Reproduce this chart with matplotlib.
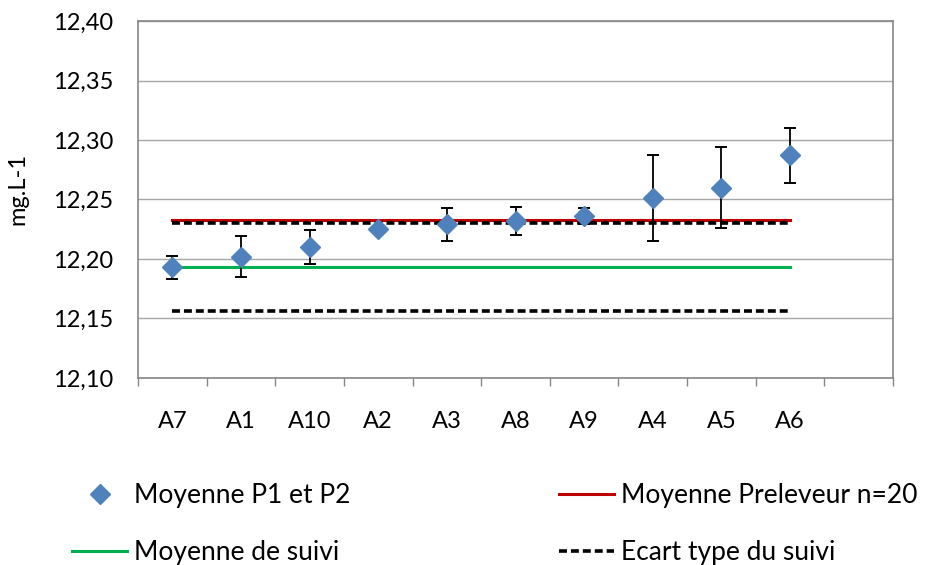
import numpy as np
import matplotlib
matplotlib.use("Agg")
import matplotlib.pyplot as plt
from matplotlib.lines import Line2D

plt.rcParams['font.family'] = ['Lato', 'DejaVu Sans']

# Data
categories = ['A7', 'A1', 'A10', 'A2', 'A3', 'A8', 'A9', 'A4', 'A5', 'A6']
moyenne_p1_p2 = [12.193, 12.202, 12.210, 12.225, 12.229, 12.232, 12.236, 12.251, 12.260, 12.287]
erreur = [0.0095, 0.017, 0.014, 0.002, 0.0135, 0.0115, 0.0065, 0.036, 0.034, 0.023]
moyenne_preleveur = 12.233
moyenne_suivi = 12.193
ecart_haut = 12.230
ecart_bas = 12.156
n_slots = 11  # Excel axis keeps one empty category on the right

yticks = [12.10, 12.15, 12.20, 12.25, 12.30, 12.35, 12.40]

W, H = 934, 565
fig = plt.figure(figsize=(W / 100, H / 100), dpi=100)
ax = fig.add_axes([138 / W, (H - 378) / H, 755 / W, 357 / H])

x = np.arange(len(categories))
grey = '#868686'
blue = '#4F81BD'
dash = (2.2, 1.1)

for y in yticks:
    ax.axhline(y, color='#a6a6a6', lw=1.0, zorder=0)

ax.plot([x[0], x[-1]], [moyenne_preleveur] * 2, color='#C00000', lw=2.2, zorder=2)
ax.plot([x[0], x[-1]], [ecart_haut] * 2, color='black', lw=2.6, dashes=dash, zorder=3)
ax.plot([x[0], x[-1]], [ecart_bas] * 2, color='black', lw=2.6, dashes=dash, zorder=3)
ax.plot([x[0], x[-1]], [moyenne_suivi] * 2, color='#00B050', lw=2.2, zorder=2)

ax.errorbar(x, moyenne_p1_p2, yerr=erreur, fmt='D', color=blue, ms=10,
            ecolor='black', elinewidth=1.3, capsize=4, capthick=1.4, zorder=4)

ax.set_xlim(-0.5, n_slots - 0.5)
ax.set_ylim(12.10, 12.40)

ax.set_xticks(np.arange(-0.5, n_slots, 1))
ax.set_xticklabels([])
ax.set_xticks(x, minor=True)
ax.set_xticklabels(categories, minor=True)
ax.tick_params(axis='x', which='major', length=6, width=1, color=grey, direction='out')
ax.tick_params(axis='x', which='minor', length=0, pad=24, labelsize=17)

ax.set_yticks(yticks)
ax.set_yticklabels([f"{v:.2f}".replace('.', ',') for v in yticks])
ax.tick_params(axis='y', length=0, pad=18, labelsize=17)

ax.set_ylabel('mg.L-1', fontsize=17)
ax.yaxis.set_label_coords(-0.145, 0.53)

for s in ax.spines.values():
    s.set_color(grey)
    s.set_linewidth(1.2)

handles = [
    Line2D([], [], ls='none', marker='D', color=blue, ms=10),
    Line2D([], [], color='#00B050', lw=2.2),
    Line2D([], [], color='#C00000', lw=2.2),
    Line2D([], [], color='black', lw=2.6, dashes=dash),
]
labels = ['Moyenne P1 et P2', 'Moyenne de suivi', 'Moyenne Preleveur n=20', 'Ecart type du suivi']
fig.legend(handles, labels, ncol=2, loc='upper left', bbox_to_anchor=(72 / W, 1 - 483 / H),
           frameon=False, fontsize=19, borderpad=0, borderaxespad=0,
           handlelength=2.1, handletextpad=0.25, columnspacing=7.9, labelspacing=1.22)

fig.savefig('out.png', dpi=100)
